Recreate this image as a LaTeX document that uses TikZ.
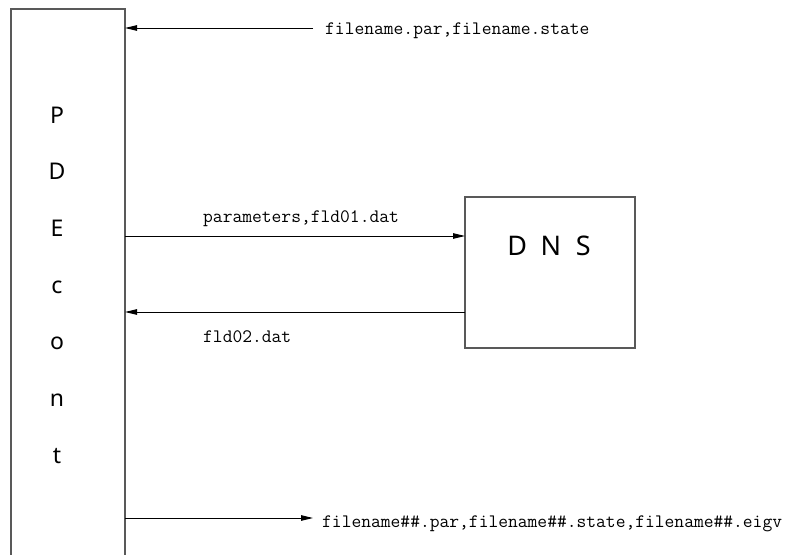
\documentclass[tikz,border=0pt]{standalone}
\usepackage{fontspec}
\newfontfamily\labelsans{Noto Sans}
\usetikzlibrary{arrows.meta}
\begin{document}
\begin{tikzpicture}[x=1pt,y=-1pt,
  box/.style={draw=black!65, line width=1.2pt, rectangle, inner sep=0pt, outer sep=0pt},
  flow/.style={draw=black, line width=0.9pt, -{Triangle[length=12pt,width=5.5pt]}},
  fname/.style={anchor=base west, inner sep=0pt, font=\ttfamily\fontsize{19}{22}\selectfont},
  letter/.style={anchor=base, inner sep=0pt, font=\labelsans\fontsize{23}{26}\selectfont},
  big/.style={anchor=base, inner sep=0pt, font=\labelsans\fontsize{27}{32}\selectfont}]
\useasboundingbox (0,0) rectangle (786,554);
\clip (0,0) rectangle (786,554);

% controller column (runs past the bottom edge)
\node[box, minimum width=114pt, minimum height=620pt, anchor=north west] (pde) at (11,9) {};
\foreach \ch [count=\i from 0] in {P,D,E,c,o,n,t}
  \node[letter] (pde\i) at (57, 123+56.7*\i) {\ch};

% solver box
\node[box, minimum width=170pt, minimum height=151pt, anchor=north west] (dns) at (465,197) {};
\node[big] (dnstext) at (549,255) {D\hspace{0.5em}N\hspace{0.55em}S};

% external input / output ends
\coordinate (inend) at (313,28);
\coordinate (outend) at (313,518);
\coordinate (fwd) at (125,236);
\coordinate (back) at (465,312);

\draw[flow] (inend) -- (inend -| pde.east);
\draw[flow] (fwd) -- (fwd -| dns.west);
\draw[flow] (back) -- (back -| pde.east);
\draw[flow] (outend -| pde.east) -- (outend);

\node[fname] (inlabel) at (325,34) {filename.par,filename.state};
\node[fname] (fwdlabel) at (203,222) {parameters,fld01.dat};
\node[fname] (backlabel) at (203,342) {fld02.dat};
\node[fname] (outlabel) at (322,527) {filename\#\#.par,filename\#\#.state,filename\#\#.eigv};
\end{tikzpicture}
\end{document}
